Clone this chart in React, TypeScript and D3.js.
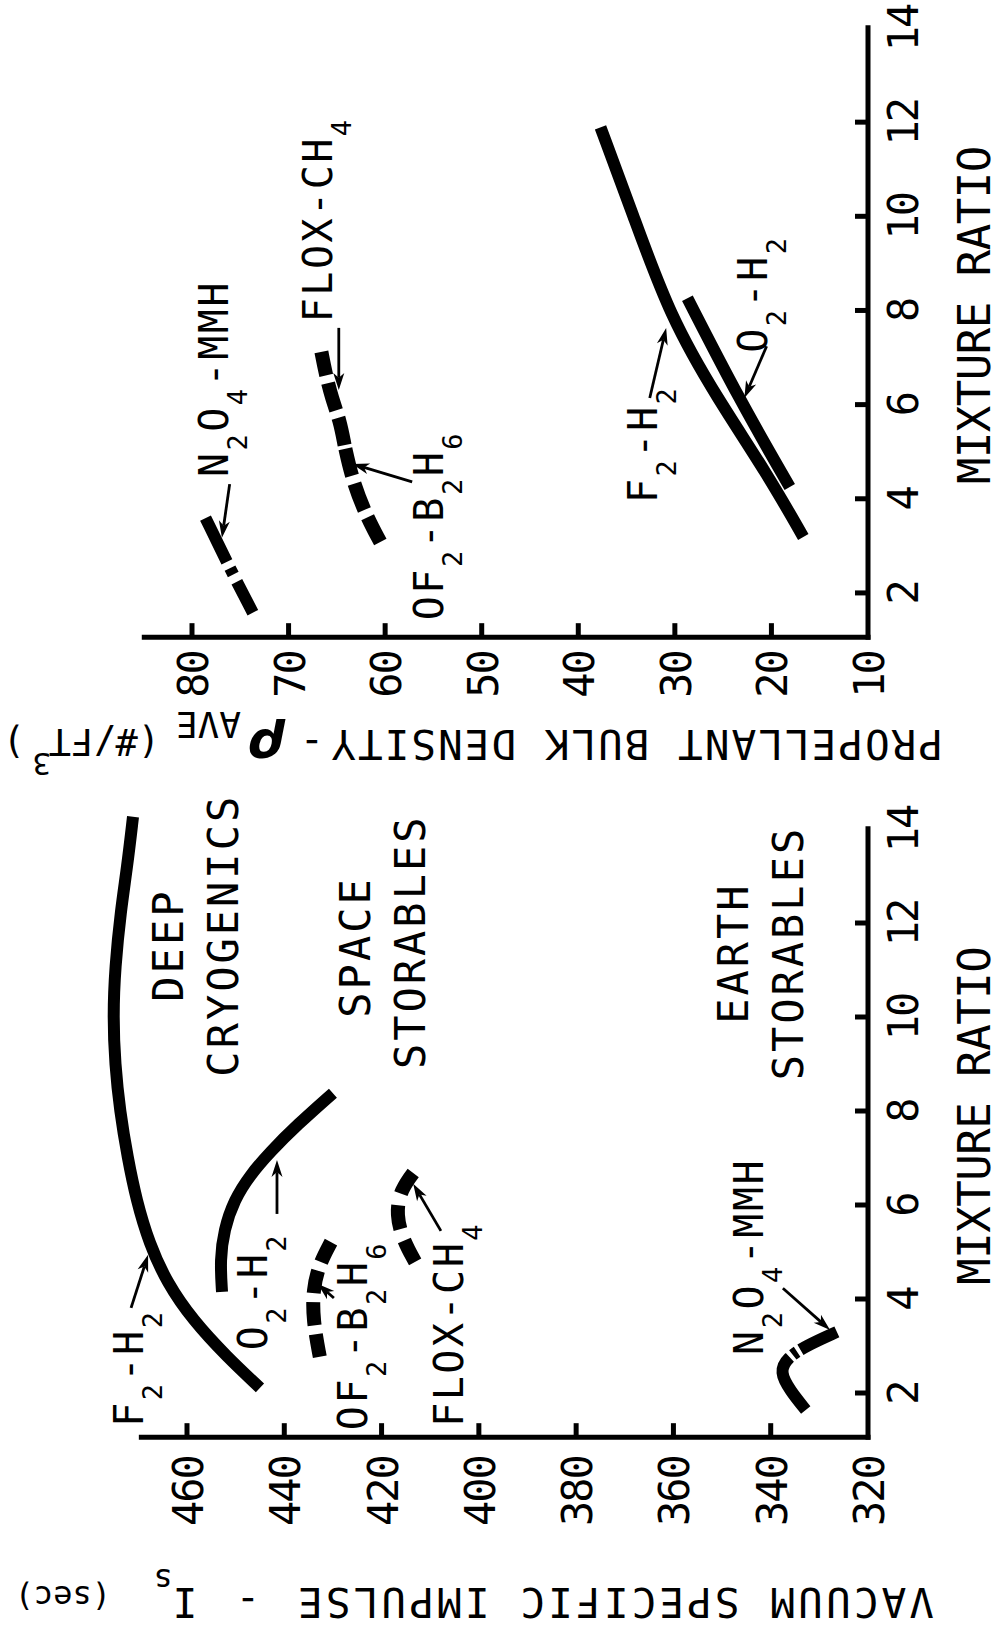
import React from 'react';
import * as d3 from 'd3';

type P = [number, number]; // [mixture ratio, value]

// ---------- tick values ----------
const MR_TICKS = [2, 4, 6, 8, 10, 12];
const MR_LABELS = [2, 4, 6, 8, 10, 12, 14];
const ISP_TICKS = [340, 360, 380, 400, 420, 440, 460];
const ISP_LABELS = [320, 340, 360, 380, 400, 420, 440, 460];
const RHO_TICKS = [20, 30, 40, 50, 60, 70, 80];
const RHO_LABELS = [10, 20, 30, 40, 50, 60, 70, 80];

// ---------- vacuum specific impulse (sec) vs mixture ratio ----------
const ISP_F2H2: P[] = [[2.11, 445.0], [2.77, 451.8], [3.55, 458.8], [4.34, 464.1], [5.19, 467.8], [6.1, 470.4], [7.0, 472.2], [8.0, 473.8], [9.0, 474.8], [10.0, 475.2], [11.06, 474.8], [12.28, 473.6], [13.19, 472.3], [14.26, 471.1]];
const ISP_O2H2: P[] = [[4.15, 452.8], [4.83, 453.2], [5.47, 452.4], [6.11, 450.3], [6.64, 447.0], [7.13, 442.9], [7.70, 437.4], [8.38, 430.0]];
const ISP_OF2B2H6: P[] = [[2.77, 432.7], [3.55, 434.1], [4.19, 434.1], [4.72, 432.9], [5.21, 430.4]];
const ISP_FLOXCH4: P[] = [[4.79, 413.1], [5.26, 415.6], [5.79, 417.0], [6.32, 416.2], [6.79, 412.7]];
const ISP_N2O4MMH: P[] = [[1.64, 332.8], [2.05, 336.0], [2.45, 338.2], [2.75, 336.6], [3.0, 332.8], [3.3, 326.4]];

// ---------- propellant bulk density (#/ft3) vs mixture ratio ----------
const RHO_F2H2: P[] = [[3.19, 16.7], [4.55, 20.5], [6.10, 25.5], [7.86, 30.5], [10.07, 34.4], [11.89, 37.7]];
const RHO_O2H2: P[] = [[4.25, 18.1], [6.10, 23.3], [8.26, 28.7]];
const RHO_N2O4MMH: P[] = [[1.58, 73.7], [2.49, 76.0], [3.59, 78.6]];
const RHO_OF2B2H6: P[] = [[3.08, 60.5], [3.66, 62.0], [4.40, 63.4], [5.14, 64.2]];
const RHO_FLOXCH4: P[] = [[5.14, 64.2], [5.67, 64.7], [6.12, 65.5], [6.69, 66.2], [7.12, 66.6]];

// ---------- annotation text & arrows (in data coordinates) ----------
const ISP_LABEL_TEXT = ['F_2-H_2', 'O_2-H_2', 'OF_2-B_2H_6', 'FLOX-CH_4', 'N_2O_4-MMH'];
const ISP_LABEL_AT: P[] = [[1.28, 469.0], [2.91, 443.6], [1.21, 423.0], [1.28, 403.3], [2.81, 341.6]];
const ISP_ARROWS: [P, P][] = [
  [[3.81, 471.5], [4.94, 468.0]],
  [[5.81, 441.5], [6.96, 441.5]],
  [[4.02, 429.8], [4.32, 433.1]],
  [[5.45, 407.8], [6.45, 413.5]],
  [[4.23, 337.5], [3.34, 327.8]],
];
const REGION_TEXT = ['DEEP', 'CRYOGENICS', 'SPACE', 'STORABLES', 'EARTH', 'STORABLES'];
const REGION_AT: P[] = [[11.53, 460.8], [11.74, 449.5], [11.49, 422.4], [11.6, 411.1], [11.36, 344.7], [11.36, 333.4]];

const RHO_LABEL_TEXT = ['N_2O_4-MMH', 'FLOX-CH_4', 'OF_2-B_2H_6', 'F_2-H_2', 'O_2-H_2'];
const RHO_LABEL_AT: P[] = [[4.46, 76.3], [7.75, 65.5], [1.42, 54.0], [3.91, 31.8], [7.10, 20.5]];
const RHO_ARROWS: [P, P][] = [
  [[4.31, 76.1], [3.17, 76.9]],
  [[7.63, 64.8], [6.31, 64.8]],
  [[4.36, 57.2], [4.74, 63.4]],
  [[6.14, 32.6], [7.63, 30.9]],
  [[7.24, 20.5], [6.14, 22.8]],
];

// ---------- layout / style ----------
const W = 1001;
const H = 1631;
const FONT = "'DejaVu Sans Mono', 'Liberation Mono', monospace";
const MR_MIN = 1.06;
const MR_MAX = 14.06;

const mrLower = d3.scaleLinear().domain([1, 14]).range([1440, 829]);
const mrUpper = d3.scaleLinear().domain([1, 14]).range([640, 28]);
const ispX = d3.scaleLinear().domain([320, 460]).range([868, 187]);
const rhoX = d3.scaleLinear().domain([10, 80]).range([868, 192]);

type Style = { w: number; dash?: string };
const SOLID: Style = { w: 12 };

const ISP_SERIES: { data: P[]; s: Style }[] = [
  { data: ISP_F2H2, s: SOLID },
  { data: ISP_O2H2, s: SOLID },
  { data: ISP_OF2B2H6, s: { w: 14, dash: '23 9' } },
  { data: ISP_FLOXCH4, s: { w: 14, dash: '24 12' } },
  { data: ISP_N2O4MMH, s: { w: 12, dash: '62 4 5 4 80' } },
];
const RHO_SERIES: { data: P[]; s: Style }[] = [
  { data: RHO_F2H2, s: SOLID },
  { data: RHO_O2H2, s: SOLID },
  { data: RHO_N2O4MMH, s: { w: 12, dash: '35 8 7 7 80' } },
  { data: RHO_OF2B2H6, s: { w: 14, dash: '28 8' } },
  { data: RHO_FLOXCH4, s: { w: 14, dash: '28 8' } },
];

function chem(str: string, sub = 27, dy = 19) {
  const tokens = str.split(/(_\d)/).filter(Boolean);
  let shifted = false;
  return tokens.map((t, k) => {
    if (t.startsWith('_')) {
      const el = (
        <tspan key={k} fontSize={sub} dy={shifted ? 0 : dy}>
          {t.slice(1)}
        </tspan>
      );
      shifted = true;
      return el;
    }
    const el = (
      <tspan key={k} dy={shifted ? -dy : 0}>
        {t}
      </tspan>
    );
    shifted = false;
    return el;
  });
}

function Arrow({ x1, y1, x2, y2 }: { x1: number; y1: number; x2: number; y2: number }) {
  const dx = x2 - x1;
  const dy = y2 - y1;
  const L = Math.hypot(dx, dy);
  const ux = dx / L;
  const uy = dy / L;
  const hl = 17;
  const hw = 5.5;
  const bx = x2 - ux * hl;
  const by = y2 - uy * hl;
  const nx = x2 - ux * hl * 0.72;
  const ny = y2 - uy * hl * 0.72;
  const pts = `${x2},${y2} ${bx - uy * hw},${by + ux * hw} ${nx},${ny} ${bx + uy * hw},${by - ux * hw}`;
  return (
    <g>
      <line x1={x1} y1={y1} x2={nx} y2={ny} stroke="#000" strokeWidth={2.8} />
      <polygon points={pts} fill="#000" />
    </g>
  );
}

type PanelProps = {
  my: d3.ScaleLinear<number, number>;
  vx: d3.ScaleLinear<number, number>;
  series: { data: P[]; s: Style }[];
  vTicks: number[];
  vLabels: number[];
  vMax: number;
  labelText: string[];
  labelAt: P[];
  arrows: [P, P][];
  labelGap: number;
};

function Panel({ my, vx, series, vTicks, vLabels, vMax, labelText, labelAt, arrows, labelGap }: PanelProps) {
  const axisY = my(MR_MIN);
  const cornerX = vx.range()[0];
  const gen = d3
    .line<P>()
    .x((p) => vx(p[1]))
    .y((p) => my(p[0]))
    .curve(d3.curveBasis);
  return (
    <g>
      {/* axes */}
      <line x1={vx(vMax)} x2={cornerX + 2.5} y1={axisY} y2={axisY} stroke="#000" strokeWidth={5} />
      <line x1={cornerX} x2={cornerX} y1={axisY + 2.5} y2={my(MR_MAX)} stroke="#000" strokeWidth={5} />
      {vTicks.map((t) => (
        <line key={'vt' + t} x1={vx(t)} x2={vx(t)} y1={axisY} y2={axisY - 14} stroke="#000" strokeWidth={5} />
      ))}
      {MR_TICKS.map((t) => (
        <line key={'mt' + t} x1={cornerX} x2={cornerX - 13} y1={my(t)} y2={my(t)} stroke="#000" strokeWidth={5} />
      ))}
      {vLabels.map((t) => (
        <text
          key={'vl' + t}
          transform={`translate(${vx(t) + 16},${axisY + labelGap}) rotate(-90)`}
          textAnchor="end"
          fontFamily={FONT}
          fontSize={42}
          letterSpacing={-2}
        >
          {t}
        </text>
      ))}
      {MR_LABELS.map((t) => (
        <text
          key={'ml' + t}
          transform={`translate(${cornerX + 50},${my(t)}) rotate(-90)`}
          textAnchor="middle"
          fontFamily={FONT}
          fontSize={42}
          letterSpacing={-2}
        >
          {t}
        </text>
      ))}
      <text
        transform={`translate(990,${my(7.9)}) rotate(-90)`}
        textAnchor="middle"
        fontFamily={FONT}
        fontSize={44}
        letterSpacing={-0.5}
      >
        MIXTURE RATIO
      </text>
      {/* curves */}
      {series.map((sr, i) => (
        <path
          key={'c' + i}
          d={gen(sr.data) || ''}
          fill="none"
          stroke="#000"
          strokeWidth={sr.s.w}
          strokeDasharray={sr.s.dash}
          strokeLinejoin="round"
        />
      ))}
      {/* curve labels */}
      {labelText.map((t, i) => (
        <text
          key={'lt' + i}
          transform={`translate(${vx(labelAt[i][1])},${my(labelAt[i][0])}) rotate(-90)`}
          textAnchor="start"
          fontFamily={FONT}
          fontSize={40}
          letterSpacing={2.5}
        >
          {chem(t)}
        </text>
      ))}
      {arrows.map((a, i) => (
        <Arrow key={'a' + i} x1={vx(a[0][1])} y1={my(a[0][0])} x2={vx(a[1][1])} y2={my(a[1][0])} />
      ))}
    </g>
  );
}

export default function App() {
  return (
    <svg
      width={W}
      height={H}
      viewBox={`0 0 ${W} ${H}`}
      style={{ position: 'absolute', left: 0, top: 0, background: '#fff' }}
    >
      <rect width={W} height={H} fill="#fff" />

      {/* upper panel: density */}
      <Panel
        my={mrUpper}
        vx={rhoX}
        series={RHO_SERIES}
        vTicks={RHO_TICKS}
        vLabels={RHO_LABELS}
        vMax={85.2}
        labelText={RHO_LABEL_TEXT}
        labelAt={RHO_LABEL_AT}
        arrows={RHO_ARROWS}
        labelGap={14}
      />

      {/* lower panel: specific impulse */}
      <Panel
        my={mrLower}
        vx={ispX}
        series={ISP_SERIES}
        vTicks={ISP_TICKS}
        vLabels={ISP_LABELS}
        vMax={469.9}
        labelText={ISP_LABEL_TEXT}
        labelAt={ISP_LABEL_AT}
        arrows={ISP_ARROWS}
        labelGap={19}
      />

      {/* region labels */}
      {REGION_TEXT.map((t, i) => (
        <text
          key={'r' + i}
          transform={`translate(${ispX(REGION_AT[i][1])},${mrLower(REGION_AT[i][0])}) rotate(-90)`}
          textAnchor="middle"
          fontFamily={FONT}
          fontSize={42}
          letterSpacing={3}
        >
          {t}
        </text>
      ))}

      {/* upper axis title (upside down) */}
      <g fontFamily={FONT}>
        <text transform="translate(943,730) rotate(180)" textAnchor="start" fontSize={41} letterSpacing={2}>
          PROPELLANT BULK DENSITY
        </text>
        <text transform="translate(312,730) rotate(180)" textAnchor="middle" fontSize={41}>
          -
        </text>
        <text
          transform="translate(286,730) rotate(180)"
          textAnchor="start"
          fontSize={52}
          fontFamily="'DejaVu Sans', sans-serif"
          fontWeight="bold"
          fontStyle="italic"
        >
          ρ
        </text>
        <text transform="translate(241,712) rotate(180)" textAnchor="start" fontSize={36}>
          AVE
        </text>
        <text transform="translate(160,729) rotate(180)" textAnchor="start" fontSize={37}>
          (#/FT
        </text>
        <text transform="translate(51,753) rotate(180)" textAnchor="start" fontSize={31}>
          3
        </text>
        <text transform="translate(25,729) rotate(180)" textAnchor="start" fontSize={37}>
          )
        </text>
      </g>

      {/* lower axis title (upside down) */}
      <g fontFamily={FONT}>
        <text transform="translate(934,1588) rotate(180)" textAnchor="start" fontSize={41} letterSpacing={3.1}>
          VACUUM SPECIFIC IMPULSE
        </text>
        <text transform="translate(248,1588) rotate(180)" textAnchor="middle" fontSize={41}>
          -
        </text>
        <text transform="translate(185,1588) rotate(180)" textAnchor="middle" fontSize={41}>
          I
        </text>
        <text transform="translate(163,1569) rotate(180)" textAnchor="middle" fontSize={32}>
          s
        </text>
        <text transform="translate(111,1586) rotate(180)" textAnchor="start" fontSize={32}>
          (sec)
        </text>
      </g>
    </svg>
  );
}
